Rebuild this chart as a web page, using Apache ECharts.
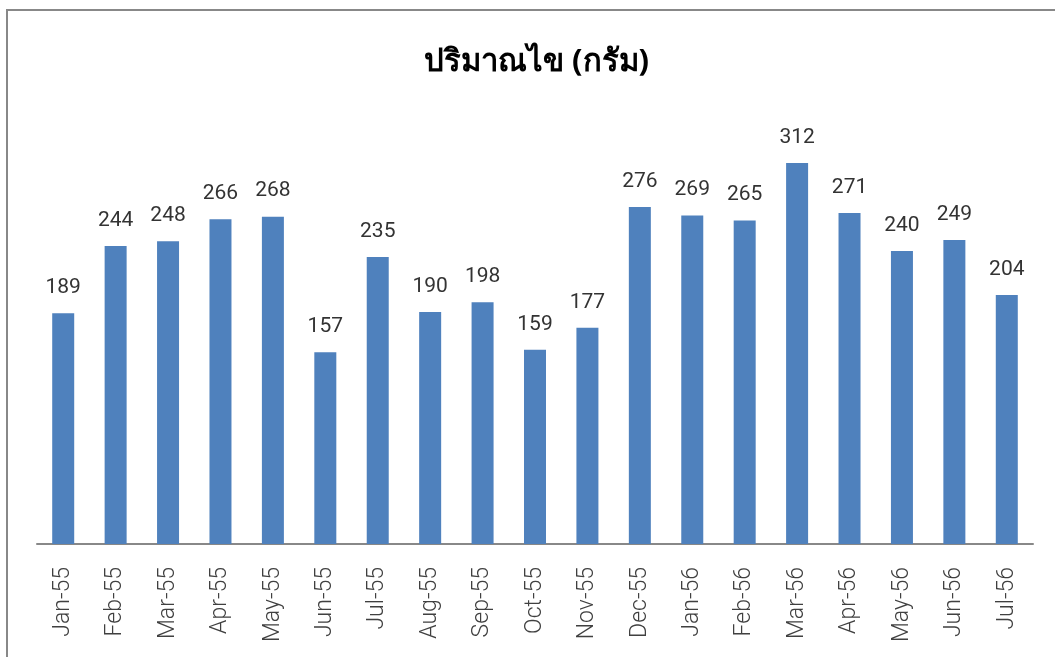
<!DOCTYPE html>
<html>
<head>
<meta charset="utf-8">
<script src="https://cdn.jsdelivr.net/npm/echarts@6/dist/echarts.min.js"></script>
<style>
    html, body {margin: 0; padding: 0; background: #fff;}
    #chart {width: 1055px; height: 657px; position: relative;}
    #frame {position: absolute; left: 6px; top: 9px; width: 1049px; height: 648px;
        border-left: 2px solid #888; border-top: 2px solid #888; pointer-events: none;}
</style>
</head>
<body>
<div style="position: relative; width: 1055px; height: 657px;">
    <div id="chart"></div>
    <div id="frame"></div>
</div>
<script>
    // ข้อมูลปริมาณไข่ (กรัม)
    const months = ['Jan-55', 'Feb-55', 'Mar-55', 'Apr-55', 'May-55', 'Jun-55', 'Jul-55', 'Aug-55', 'Sep-55',
        'Oct-55', 'Nov-55', 'Dec-55', 'Jan-56', 'Feb-56', 'Mar-56', 'Apr-56', 'May-56', 'Jun-56', 'Jul-56'];
    const eggWeight = [189, 244, 248, 266, 268, 157, 235, 190, 198, 159, 177, 276, 269, 265, 312, 271, 240, 249, 204];

    const labelFont = 'Roboto, sans-serif';

    const chart = echarts.init(document.getElementById('chart'));

    const option = {
        backgroundColor: '#fff',
        animation: false,
        title: {
            text: 'ปริมาณไข (กรัม)',
            left: 419,
            top: 42,
            textStyle: {
                fontSize: 31,
                fontWeight: 'bold',
                color: '#000',
                fontFamily: 'Noto Sans, sans-serif',
            },
        },
        grid: {
            left: 37,
            right: 22,
            top: 116.6,
            bottom: 113,
        },
        xAxis: {
            type: 'category',
            data: months,
            axisLine: {lineStyle: {color: '#888', width: 2}},
            axisTick: {show: false},
            axisLabel: {
                rotate: 90,
                fontSize: 23,
                fontWeight: 300,
                color: '#404040',
                margin: 23,
                fontFamily: labelFont,
            },
        },
        yAxis: {
            type: 'value',
            min: 0,
            max: 350,
            show: false,
        },
        series: [
            {
                name: 'ปริมาณไข',
                type: 'bar',
                data: eggWeight,
                barWidth: 22,
                itemStyle: {color: '#4F81BD'},
                label: {
                    show: true,
                    position: 'top',
                    distance: 15,
                    fontSize: 21,
                    color: '#333',
                    fontFamily: labelFont,
                },
            },
        ],
    };

    chart.setOption(option);
</script>
</body>
</html>
